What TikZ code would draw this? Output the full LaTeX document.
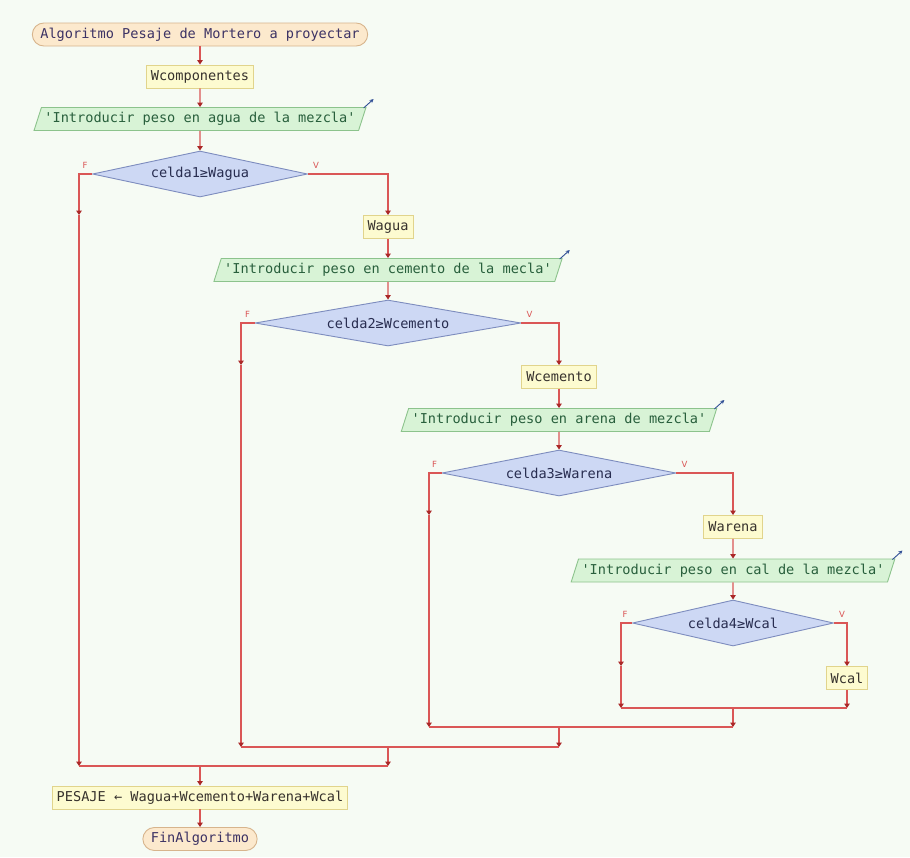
\documentclass[tikz,border=0pt]{standalone}
\usepackage{fontspec}
\newfontfamily\flowfont{DejaVu Sans Mono}
\newfontfamily\labelfont{DejaVu Sans}
\usetikzlibrary{shapes.geometric,arrows.meta,calc}

\definecolor{bgmint}{RGB}{246,251,244}
\definecolor{wirered}{RGB}{218,86,86}
\definecolor{tipdark}{RGB}{170,40,40}
\definecolor{termfill}{RGB}{252,233,205}
\definecolor{termline}{RGB}{215,180,140}
\definecolor{termtext}{RGB}{60,50,100}
\definecolor{procfill}{RGB}{253,251,208}
\definecolor{procline}{RGB}{225,212,140}
\definecolor{proctext}{RGB}{55,50,45}
\definecolor{infill}{RGB}{216,243,214}
\definecolor{inborder}{RGB}{140,195,140}
\definecolor{intext}{RGB}{40,95,60}
\definecolor{decfill}{RGB}{205,216,244}
\definecolor{decline}{RGB}{125,140,190}
\definecolor{dectext}{RGB}{40,45,80}
\definecolor{echoblue}{RGB}{50,80,150}

\tikzset{
  base/.style={font=\flowfont\fontsize{13.6}{16}\selectfont, line width=0.9pt,
               minimum height=23pt, inner ysep=0pt},
  terminal/.style={base, rectangle, rounded corners=11.5pt, fill=termfill,
               draw=termline, text=termtext, inner xsep=8pt},
  proc/.style={base, rectangle, fill=procfill, draw=procline, text=proctext,
               inner xsep=4.5pt},
  inbox/.style={base, trapezium, trapezium left angle=61, trapezium right angle=119,
               trapezium stretches body, fill=infill, draw=inborder, text=intext,
               inner xsep=3pt},
  cond/.style={base, diamond, aspect=4.6, inner sep=0pt, fill=decfill,
               draw=decline, text=dectext, minimum height=46pt},
  wire/.style={draw=wirered, line width=1.1pt},
  tip/.style={wire, -{Triangle[width=5.5pt,length=4.5pt,color=tipdark]}},
  branch/.style={font=\labelfont\fontsize{8.5}{9}\selectfont, text=wirered, inner sep=0pt},
  echoarrow/.style={draw=echoblue, line width=0.9pt, -{Stealth[length=4pt,width=4pt]}},
}

\begin{document}
\begin{tikzpicture}[x=1pt,y=-1pt]
  \fill[bgmint] (0,0) rectangle (910,857);
  \useasboundingbox (0,0) rectangle (910,857);

  % main column
  \node[terminal] (start) at (200,34.5) {Algoritmo Pesaje de Mortero a proyectar};
  \node[proc] (wcomp) at (200,76.5) {Wcomponentes};
  \node[inbox] (in1) at (200,119) {'Introducir peso en agua de la mezcla'};
  \node[cond, minimum width=215pt] (d1) at (200,174) {celda1≥Wagua};

  % nested conditions
  \node[proc] (wagua) at (388,227) {Wagua};
  \node[inbox] (in2) at (388,270) {'Introducir peso en cemento de la mecla'};
  \node[cond, minimum width=266pt] (d2) at (388,323) {celda2≥Wcemento};

  \node[proc] (wcem) at (559,377) {Wcemento};
  \node[inbox] (in3) at (559,420) {'Introducir peso en arena de mezcla'};
  \node[cond, minimum width=234pt] (d3) at (559,473) {celda3≥Warena};

  \node[proc] (warena) at (733,527) {Warena};
  \node[inbox] (in4) at (733,570.5) {'Introducir peso en cal de la mezcla'};
  \node[cond, minimum width=201pt] (d4) at (733,623) {celda4≥Wcal};

  \node[proc] (wcal) at (847,678) {Wcal};

  % final part
  \node[proc] (pesaje) at (200,797.5) {PESAJE ← Wagua+Wcemento+Warena+Wcal};
  \node[terminal] (fin) at (200,839) {FinAlgoritmo};

  % turning points of the false branches
  \coordinate (f1) at (79,174);
  \coordinate (f2) at (241,323);
  \coordinate (f3) at (429,473);
  \coordinate (f4) at (621,623);

  % merge points
  \coordinate (m4) at (733,708);
  \coordinate (m3) at (559,727);
  \coordinate (m2) at (388,747);
  \coordinate (m1) at (200,766);

  % straight flow
  \draw[tip] (start) -- (wcomp);
  \draw[tip] (wcomp) -- (in1);
  \draw[tip] (in1) -- (d1);
  \draw[tip] (wagua) -- (in2);
  \draw[tip] (in2) -- (d2);
  \draw[tip] (wcem) -- (in3);
  \draw[tip] (in3) -- (d3);
  \draw[tip] (warena) -- (in4);
  \draw[tip] (in4) -- (d4);

  % true branches
  \draw[tip] (d1.east) -| (wagua.north);
  \draw[tip] (d2.east) -| (wcem.north);
  \draw[tip] (d3.east) -| (warena.north);
  \draw[tip] (d4.east) -| (wcal.north);

  % false branches
  \draw[tip] (d1.west) -- (f1) -- (f1 |- wagua.north);
  \draw[tip] (f1 |- wagua.north) -- (f1 |- m1);
  \draw[tip] (d2.west) -- (f2) -- (f2 |- wcem.north);
  \draw[tip] (f2 |- wcem.north) -- (f2 |- m2);
  \draw[tip] (d3.west) -- (f3) -- (f3 |- warena.north);
  \draw[tip] (f3 |- warena.north) -- (f3 |- m3);
  \draw[tip] (d4.west) -- (f4) -- (f4 |- wcal.north);
  \draw[tip] (f4 |- wcal.north) -- (f4 |- m4);

  % merges
  \draw[tip] (wcal.south) -- (wcal |- m4);
  \draw[wire] (f4 |- m4) -- (wcal |- m4);
  \draw[tip] (m4) -- (m4 |- m3);
  \draw[wire] (f3 |- m3) -- (m4 |- m3);
  \draw[tip] (m3) -- (m3 |- m2);
  \draw[wire] (f2 |- m2) -- (m3 |- m2);
  \draw[tip] (m2) -- (m2 |- m1);
  \draw[wire] (f1 |- m1) -- (m2 |- m1);
  \draw[tip] (m1) -- (pesaje);
  \draw[tip] (pesaje) -- (fin);

  % branch labels
  \node[branch] (F1) at ($(d1.west)+(-7,-9)$) {F};
  \node[branch] (V1) at ($(d1.east)+(8,-9)$) {V};
  \node[branch] (F2) at ($(d2.west)+(-7,-9)$) {F};
  \node[branch] (V2) at ($(d2.east)+(8,-9)$) {V};
  \node[branch] (F3) at ($(d3.west)+(-7,-9)$) {F};
  \node[branch] (V3) at ($(d3.east)+(8,-9)$) {V};
  \node[branch] (F4) at ($(d4.west)+(-7,-9)$) {F};
  \node[branch] (V4) at ($(d4.east)+(8,-9)$) {V};

  % input markers
  \draw[echoarrow] (in1.top right corner) ++(-3,1) -- ++(10,-9);
  \draw[echoarrow] (in2.top right corner) ++(-3,1) -- ++(10,-9);
  \draw[echoarrow] (in3.top right corner) ++(-3,1) -- ++(10,-9);
  \draw[echoarrow] (in4.top right corner) ++(-3,1) -- ++(10,-9);
\end{tikzpicture}
\end{document}
